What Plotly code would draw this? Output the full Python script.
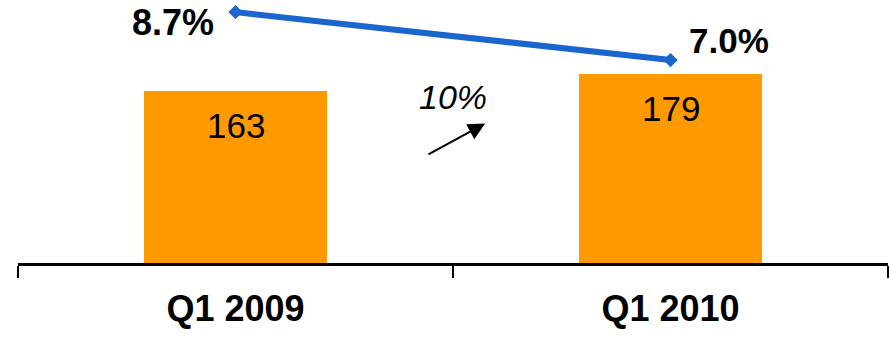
import plotly.graph_objects as go

categories = ["Q1 2009", "Q1 2010"]
bar_values = [163, 179]
rate_values = [8.7, 7.0]
rate_labels = ["8.7%", "7.0%"]
growth_label = "10%"

BAR_COLOR = "#FF9900"
LINE_COLOR = "#1A66CC"
FONT = "Liberation Sans, Arial, sans-serif"

fig = go.Figure()
fig.add_trace(go.Bar(
    x=categories, y=bar_values, marker=dict(color=BAR_COLOR, line=dict(width=0)),
    width=0.42, hoverinfo="skip", showlegend=False,
))
fig.add_trace(go.Scatter(
    x=categories, y=rate_values, yaxis="y2", mode="lines+markers",
    line=dict(color=LINE_COLOR, width=6),
    marker=dict(symbol="diamond", size=11, color=LINE_COLOR),
    showlegend=False, hoverinfo="skip",
))

annotations = []
# bar value labels
for c, v in zip(categories, bar_values):
    annotations.append(dict(
        x=c, y=v, xref="x", yref="y", text=str(v), showarrow=False,
        yanchor="middle", yshift=-35,
        font=dict(family=FONT, size=35, color="black"),
    ))
# rate labels
annotations.append(dict(
    x=categories[0], y=rate_values[0], xref="x", yref="y2", text="<b>%s</b>" % rate_labels[0],
    showarrow=False, xanchor="right", yanchor="middle", xshift=-20, yshift=-10,
    font=dict(family=FONT, size=36, color="black"),
))
annotations.append(dict(
    x=categories[1], y=rate_values[1], xref="x", yref="y2", text="<b>%s</b>" % rate_labels[1],
    showarrow=False, xanchor="left", yanchor="middle", xshift=16, yshift=20,
    font=dict(family=FONT, size=35, color="black"),
))
# growth label and arrow
annotations.append(dict(
    x=0.5, y=157, xref="x", yref="y", text="<i>%s</i>" % growth_label, showarrow=False,
    font=dict(family=FONT, size=34, color="black"),
))
annotations.append(dict(
    x=0.574, y=132, ax=0.44, ay=102, xref="x", yref="y", axref="x", ayref="y",
    text="", showarrow=True, arrowhead=2, arrowsize=1.7, arrowwidth=2, arrowcolor="black",
))

fig.update_layout(
    width=890, height=338,
    margin=dict(l=18, r=2, t=0, b=75),
    paper_bgcolor="white", plot_bgcolor="white",
    xaxis=dict(
        type="category", range=[-0.5, 1.5],
        showline=True, linecolor="black", linewidth=3,
        ticks="outside", tickson="boundaries", ticklen=12, tickwidth=2, tickcolor="black",
        tickfont=dict(family=FONT, size=36, color="black"),
        tickprefix="<b>", ticksuffix="</b>",
        ticklabelstandoff=12,
        showgrid=False, zeroline=False,
    ),
    yaxis=dict(range=[0, 249], visible=False, showgrid=False, zeroline=False),
    yaxis2=dict(range=[-0.2, 9.13], overlaying="y", visible=False, showgrid=False, zeroline=False),
    annotations=annotations,
    bargap=0,
)

fig.write_html("out.html")
